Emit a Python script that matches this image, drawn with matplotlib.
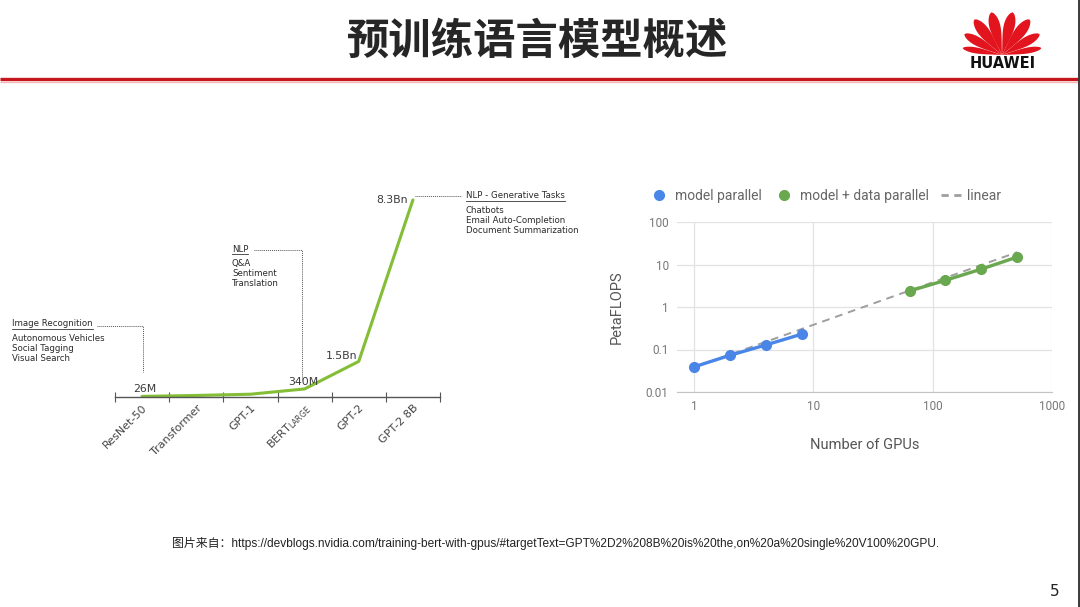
import numpy as np
import matplotlib
matplotlib.use('Agg')
import matplotlib.pyplot as plt
from matplotlib.lines import Line2D
from matplotlib.patches import Polygon
from matplotlib import font_manager
from matplotlib.ticker import NullLocator

# left chart: model size (billions of parameters)
models = ['ResNet-50', 'Transformer', 'GPT-1', 'BERT$_{\\mathrm{LARGE}}$', 'GPT-2', 'GPT-2 8B']
params_bn = [0.026, 0.065, 0.117, 0.34, 1.5, 8.3]
param_labels = ['26M', '', '', '340M', '1.5Bn', '8.3Bn']

# right chart: scaling of PetaFLOPS vs GPUs
mp_gpus = [1, 2, 4, 8]
mp_pflops = [0.039, 0.073, 0.128, 0.23]
mdp_gpus = [64, 128, 256, 512]
mdp_pflops = [2.38, 4.25, 7.8, 15.0]
linear_gpus = [1, 512]
linear_pflops = [0.038, 19.5]
gpu_ticks = [1, 10, 100, 1000]
gpu_labels = ['1', '10', '100', '1000']
pf_ticks = [0.01, 0.1, 1, 10, 100]
pf_labels = ['0.01', '0.1', '1', '10', '100']

W, H = 1080, 607
installed = {f.name for f in font_manager.fontManager.ttflist}
narrow = 'Liberation Sans Narrow' if 'Liberation Sans Narrow' in installed else 'Liberation Sans'
CJK = 'Noto Sans CJK SC'


def box(x0, y0, x1, y1):
    return [x0 / W, 1 - y1 / H, (x1 - x0) / W, (y1 - y0) / H]


fig = plt.figure(figsize=(10.8, 6.07), dpi=100)
bg = fig.add_axes([0, 0, 1, 1])
bg.set_xlim(0, W)
bg.set_ylim(H, 0)
bg.axis('off')

# header
bg.text(538, 42, '预训练语言模型概述', fontsize=30.5, fontweight='bold', family=CJK,
        ha='center', va='center', color='#262626')
bg.plot([0, W], [79, 79], color='#c4161c', lw=2.4, solid_capstyle='butt')
bg.plot([0, W], [81.6, 81.6], color='#f2b8b8', lw=1.0, solid_capstyle='butt')
bg.plot([1078.8, 1078.8], [0, H], color='#3a3a3a', lw=1.4)

# logo
base = np.array([1002.0, 55.0])
for side in (-1, 1):
    for ang, L, w in [(14, 44, 11), (38, 45, 11), (61, 43, 9), (80, 40, 6)]:
        a = np.radians(ang)
        d = np.array([side * np.sin(a), -np.cos(a)])
        n = np.array([np.cos(a), side * np.sin(a)])
        u = np.linspace(0, 1, 40)
        hw = w / 2 * np.sin(np.pi * u ** 1.8) ** 0.6
        p1 = base + np.outer(u * L, d) + np.outer(hw, n)
        p2 = base + np.outer(u * L, d) - np.outer(hw, n)
        pts = np.vstack([p1, p2[::-1]])
        bg.add_patch(Polygon(pts, closed=True, color='#e2141e', lw=0))
bg.text(1003, 64, 'HUAWEI', fontsize=10.5, fontweight='bold', ha='center', va='center',
        color='#111111')

# ---- left chart ----
axL = fig.add_axes(box(115, 180, 440, 397))
axL.patch.set_alpha(0)
x = np.arange(len(models))
axL.plot(x, params_bn, color='#84bd36', lw=2.2, solid_capstyle='round')
axL.set_xlim(-0.5, len(models) - 0.5)
axL.set_ylim(0, 9.14)
axL.set_yticks([])
for s in ['top', 'left', 'right']:
    axL.spines[s].set_visible(False)
axL.spines['bottom'].set_color('#555555')
axL.spines['bottom'].set_linewidth(1.0)
axL.set_xticks(np.arange(-0.5, len(models), 1))
axL.set_xticklabels([])
axL.set_xticks(x, models, minor=True)
axL.tick_params(axis='x', which='major', direction='inout', length=7, color='#555555')
axL.tick_params(axis='x', which='minor', length=0, pad=4, labelsize=8, labelcolor='#444444')
for lab in axL.get_xticklabels(minor=True):
    lab.set_rotation(45)
    lab.set_ha('right')
    lab.set_va('top')
    lab.set_rotation_mode('anchor')

offsets = {'26M': (2, 2, 'center'), '340M': (-1, 1.5, 'center'),
           '1.5Bn': (-1, 0, 'right'), '8.3Bn': (-4, -4, 'right')}
for xi, v, lab in zip(x, params_bn, param_labels):
    if not lab:
        continue
    dx, dy, ha = offsets[lab]
    axL.annotate(lab, (xi, v), xytext=(dx, dy), textcoords='offset points',
                 ha=ha, va='bottom', fontsize=7.8, color='#3a3a3a')

# application notes
notes = [
    (12, 324, 'Image Recognition', ['Autonomous Vehicles', 'Social Tagging', 'Visual Search']),
    (232, 249, 'NLP', ['Q&A', 'Sentiment', 'Translation']),
    (466, 196, 'NLP - Generative Tasks', ['Chatbots', 'Email Auto-Completion', 'Document Summarization']),
]
heads = []
for nx, ny, head, items in notes:
    heads.append(bg.text(nx, ny, head, fontsize=6.2, color='#2a2a2a', va='center'))
    for k, it in enumerate(items):
        bg.text(nx, ny + 14.5 + 9.8 * k, it, fontsize=6.2, color='#2a2a2a', va='center')
dot = dict(color='#555555', lw=0.7, ls=(0, (1, 1)))
bg.plot([97, 143, 143], [326, 326, 372], **dot)
bg.plot([254, 302, 302], [250, 250, 380], **dot)
bg.plot([415, 461], [196, 196], **dot)

# ---- right chart ----
axR = fig.add_axes(box(677, 222, 1052, 392))
axR.patch.set_alpha(0)
axR.set_xscale('log')
axR.set_yscale('log')
axR.plot(linear_gpus, linear_pflops, ls=(0, (4, 3)), color='#9e9e9e', lw=1.4, zorder=3)
axR.plot(mp_gpus, mp_pflops, '-o', color='#4a86e8', lw=2.4, ms=7, zorder=4)
axR.plot(mdp_gpus, mdp_pflops, '-o', color='#6aa84f', lw=2.4, ms=7, zorder=4)
axR.set_xlim(0.72, 1000)
axR.set_ylim(0.01, 100)
axR.set_xticks(gpu_ticks, gpu_labels)
axR.set_yticks(pf_ticks, pf_labels)
axR.xaxis.set_minor_locator(NullLocator())
axR.yaxis.set_minor_locator(NullLocator())
axR.grid(True, color='#e2e2e2', lw=0.9)
axR.set_axisbelow(True)
for s in ['top', 'left', 'right']:
    axR.spines[s].set_visible(False)
axR.spines['bottom'].set_color('#c4c4c4')
axR.tick_params(length=0, labelsize=8.5, labelcolor='#777777', pad=6)
for lab in axR.get_xticklabels() + axR.get_yticklabels():
    lab.set_family('Roboto')
axR.set_xlabel('Number of GPUs', fontsize=10.5, color='#555555', family='Roboto', labelpad=18)
axR.set_ylabel('PetaFLOPS', fontsize=10.5, color='#555555', family='Roboto', labelpad=16)

handles = [Line2D([], [], marker='o', ls='none', color='#4a86e8', ms=7),
           Line2D([], [], marker='o', ls='none', color='#6aa84f', ms=7),
           Line2D([], [], ls=(0, (2.6, 2.0)), color='#9e9e9e', lw=2)]
fig.legend(handles, ['model parallel', 'model + data parallel', 'linear'],
           loc='center left', bbox_to_anchor=(649 / W, 1 - 196 / H), ncol=3, frameon=False,
           prop={'family': 'Roboto', 'size': 10}, labelcolor='#666666',
           handlelength=1.5, handletextpad=0.35, columnspacing=0.9,
           borderpad=0, borderaxespad=0)

# footer
bg.text(172, 543, '图片来自：https://devblogs.nvidia.com/training-bert-with-gpus/'
        '#targetText=GPT%2D2%208B%20is%20the,on%20a%20single%20V100%20GPU.',
        fontsize=8.6, family=[narrow, CJK], color='#222222', va='center')
bg.text(1055, 592, '5', fontsize=11, ha='center', va='center', color='#222222')

# underline the note headings
fig.canvas.draw()
for t in heads:
    bb = t.get_window_extent()
    bg.plot([bb.x0, bb.x1], [H - bb.y0 + 0.5, H - bb.y0 + 0.5], color='#333333', lw=0.6)

fig.savefig('out.png', dpi=100)
